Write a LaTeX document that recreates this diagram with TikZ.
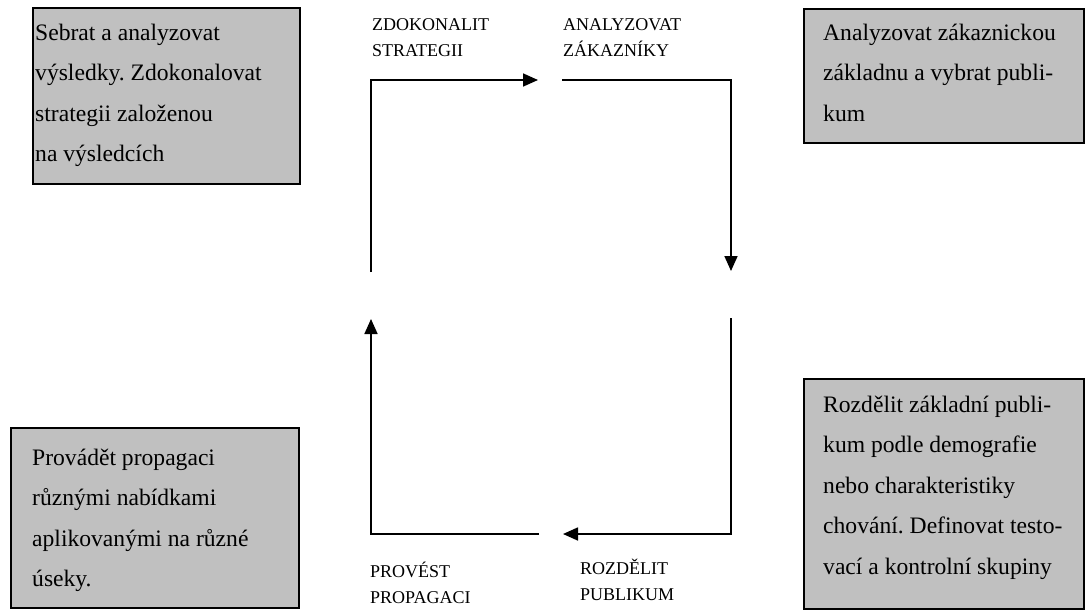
\documentclass[tikz,border=0pt]{standalone}
\usepackage{fontspec}
\setmainfont{Liberation Serif}
\usetikzlibrary{arrows.meta}

\definecolor{panelgray}{RGB}{192,192,192}
\newcommand{\panelfont}{\fontsize{23.6}{40.5}\selectfont\frenchspacing}
\newcommand{\stagefont}{\fontsize{18}{26.5}\selectfont}

\begin{document}
\begin{tikzpicture}[x=1pt, y=-1pt,
  panel/.style={draw, fill=panelgray, line width=1.8pt, anchor=north west, inner sep=0pt},
  paneltext/.style={anchor=north west, inner sep=0pt, align=left, font=\panelfont},
  stage/.style={anchor=north west, inner sep=0pt, align=left, font=\stagefont},
  flow/.style={line width=1.7pt, -{Triangle[length=15pt, width=13pt]}}]
  \useasboundingbox (0,0) rectangle (1085,611);
  % Grey boxes
  \node[panel, minimum width=267pt, minimum height=176pt] (refinebox) at (32,7) {};
  \node[paneltext] (refinetext) at ([shift={(3,4.7)}]refinebox.north west)
    {\strut Sebrat a analyzovat\\výsledky. Zdokonalovat\\strategii založenou\\na výsledcích};
  \node[panel, minimum width=280pt, minimum height=134pt] (analyzebox) at (803,8) {};
  \node[paneltext] (analyzetext) at ([shift={(20,3.7)}]analyzebox.north west)
    {\strut Analyzovat zákaznickou\\základnu a vybrat publi-\\kum};
  \node[panel, minimum width=280pt, minimum height=230pt] (splitbox) at (803,378) {};
  \node[paneltext] (splittext) at ([shift={(20,5.7)}]splitbox.north west)
    {\strut Rozdělit základní publi-\\kum podle demografie\\nebo charakteristiky\\chování. Definovat testo-\\vací a kontrolní skupiny};
  \node[panel, minimum width=288pt, minimum height=180pt] (promotebox) at (10,427) {};
  \node[paneltext] (promotetext) at ([shift={(22,9.7)}]promotebox.north west)
    {\strut Provádět propagaci\\různými nabídkami\\aplikovanými na různé\\úseky.};
  % Stage labels
  \node[stage] (refinelabel) at (372,11.5) {\strut ZDOKONALIT\\STRATEGII};
  \node[stage] (analyzelabel) at (563,11.5) {\strut ANALYZOVAT\\ZÁKAZNÍKY};
  \node[stage] (promotelabel) at (370,558.5) {\strut PROVÉST\\PROPAGACI};
  \node[stage] (splitlabel) at (580,555.5) {\strut ROZDĚLIT\\PUBLIKUM};
  % Cycle arrows
  \coordinate (refinestart) at (371,272);
  \coordinate (refineend) at (538,80);
  \coordinate (analyzestart) at (562,80);
  \coordinate (analyzeend) at (731,271);
  \coordinate (splitstart) at (731,318);
  \coordinate (splitend) at (563,534);
  \coordinate (promotestart) at (539,534);
  \coordinate (promoteend) at (371,319);
  \draw[flow] (refinestart) |- (refineend);
  \draw[flow] (analyzestart) -| (analyzeend);
  \draw[flow] (splitstart) |- (splitend);
  \draw[flow] (promotestart) -| (promoteend);
\end{tikzpicture}
\end{document}
